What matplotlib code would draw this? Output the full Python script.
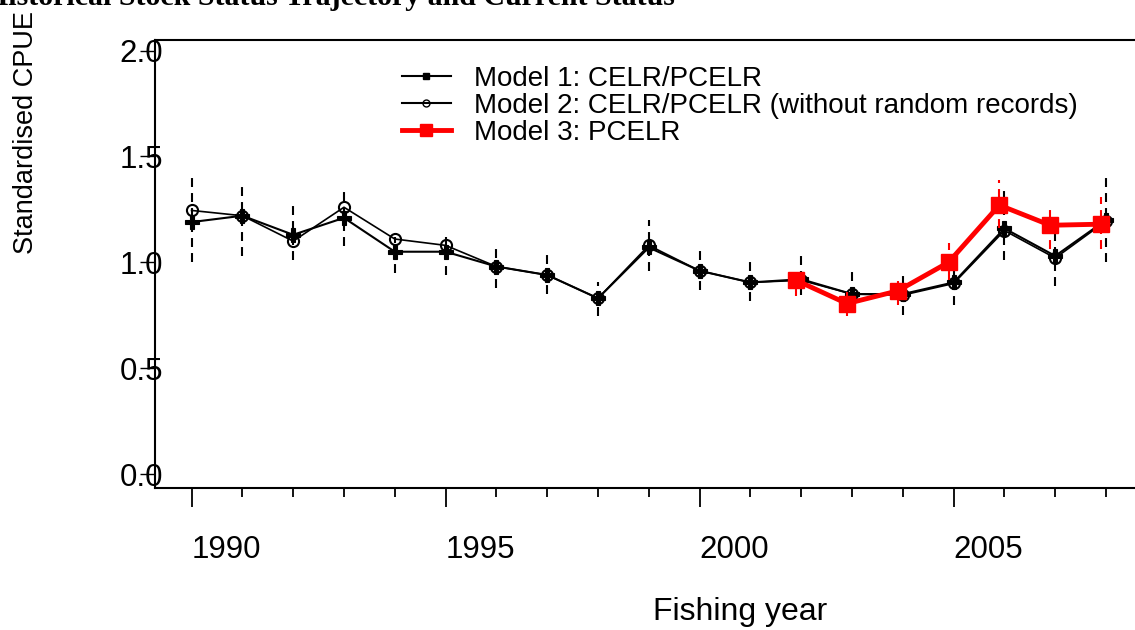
from matplotlib import pyplot as plt
from matplotlib.lines import Line2D
import numpy as np

# values
years = np.arange(1990, 2009)
model1 = [1.19, 1.22, 1.13, 1.21, 1.05, 1.05, 0.98, 0.94, 0.83, 1.07,
          0.96, 0.905, 0.92, 0.85, 0.85, 0.905, 1.16, 1.03, 1.20]
model1_lo = [1.00, 1.03, 1.01, 1.075, 0.95, 0.94, 0.88, 0.85, 0.745, 0.96,
             0.87, 0.815, 0.845, 0.77, 0.75, 0.80, 1.01, 0.89, 1.00]
model1_hi = [1.41, 1.37, 1.27, 1.34, 1.12, 1.12, 1.08, 1.04, 0.905, 1.20,
             1.06, 1.01, 1.03, 0.955, 0.94, 0.98, 1.335, 1.145, 1.41]
model2 = [1.245, 1.22, 1.10, 1.26, 1.11, 1.08, 0.98, 0.94, 0.83, 1.08,
          0.96, 0.905, 0.915, 0.85, 0.845, 0.90, 1.15, 1.02, 1.195]
years3 = np.arange(2002, 2009)
model3 = [0.915, 0.805, 0.865, 1.00, 1.27, 1.175, 1.18]
model3_lo = [0.84, 0.745, 0.80, 0.915, 1.16, 1.065, 1.065]
model3_hi = [0.97, 0.87, 0.915, 1.09, 1.39, 1.255, 1.31]

labels = ['Model 1: CELR/PCELR',
          'Model 2: CELR/PCELR (without random records)',
          'Model 3: PCELR']
major_years = [1990, 1995, 2000, 2005]
y_ticks = [0.0, 0.5, 1.0, 1.5, 2.0]

plt.rcParams['font.family'] = ['Liberation Sans', 'DejaVu Sans']

fig = plt.figure(figsize=(11.35, 6.3), dpi=100)
ax = fig.add_axes([155 / 1135, 1 - 488 / 630, 1 - 155 / 1135, (488 - 40) / 630])

dash = (0, (4.3, 2.9))
ax.vlines(years, model1_lo, model1_hi, colors='black', linewidth=1.5, linestyles=[dash], zorder=2)
ax.vlines(years3 - 0.1, model3_lo, model3_hi, colors='red', linewidth=1.5, linestyles=[dash], zorder=4)

ax.plot(years, model2, color='black', linewidth=1.2, marker='o', markersize=8,
        markerfacecolor='none', markeredgewidth=1.5, zorder=3)
ax.plot(years, model1, color='black', linewidth=1.5, marker='P', markersize=9.5,
        markeredgewidth=0.8, zorder=3)
ax.plot(years3 - 0.1, model3, color='red', linewidth=3.5, marker='s', markersize=11,
        zorder=5)

ax.set_xlim(1989.28, 2008.57)
ax.set_ylim(-0.066, 2.05)

ax.spines['right'].set_visible(False)
for s in ['left', 'bottom', 'top']:
    ax.spines[s].set_linewidth(1.5)

ax.set_xticks(major_years)
ax.set_xticks([y for y in years if y not in major_years], minor=True)
ax.set_xticklabels([str(y) for y in major_years], fontsize=22.5, ha='left')
ax.tick_params(axis='x', which='major', direction='out', length=14, width=1.3, pad=20)
ax.tick_params(axis='x', which='minor', direction='out', length=6.5, width=1.3)

ax.set_yticks(y_ticks)
ax.set_yticklabels(['%.1f' % v for v in y_ticks], fontsize=22.5)
ax.tick_params(axis='y', direction='out', length=11, width=1.0, pad=-17)

fig.text(740 / 1135, 1 - 612 / 630, 'Fishing year', fontsize=23, ha='center', va='center')
fig.text(26 / 1135, 1 - 132 / 630, 'Standardised CPUE', fontsize=19.5, rotation=90,
         ha='center', va='center')
fig.text(675 / 1135, 1 - 5 / 630, 'Historical Stock Status Trajectory and Current Status',
         fontsize=21.5, fontweight='bold', family='Liberation Serif', ha='right', va='baseline')

handles = [Line2D([], [], color='black', linewidth=1.5, marker='s', markersize=5),
           Line2D([], [], color='black', linewidth=1.5, marker='o', markersize=5,
                  markerfacecolor='none'),
           Line2D([], [], color='red', linewidth=3.5, marker='s', markersize=8)]
fig.legend(handles, labels, loc='upper left', bbox_to_anchor=(402 / 1135, 1 - 66 / 630),
           frameon=False, fontsize=20, handlelength=1.75, handletextpad=0.85,
           labelspacing=0.03, borderpad=0, borderaxespad=0)

fig.savefig('out.png', dpi=100)
